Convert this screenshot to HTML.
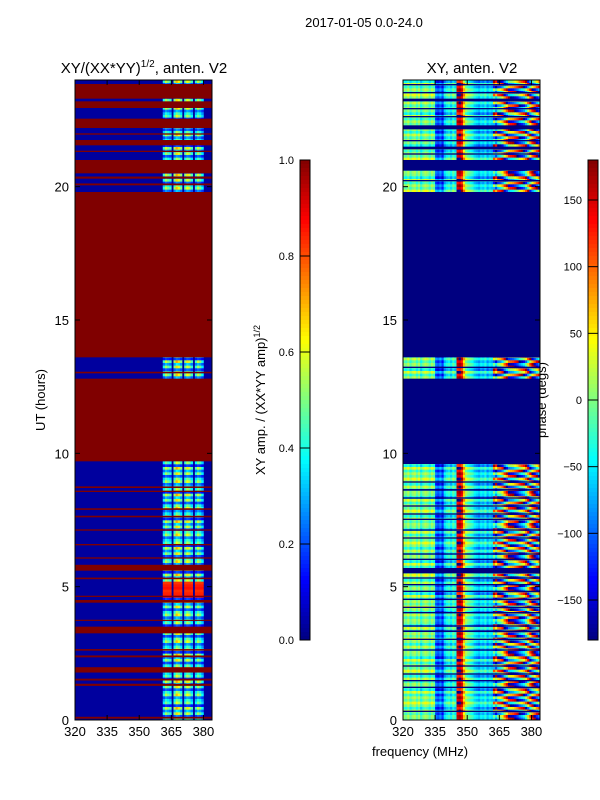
<!DOCTYPE html>
<html><head><meta charset="utf-8">
<style>
body{margin:0;background:#fff;}
svg{display:block;font-family:"Liberation Sans",sans-serif;}
</style></head>
<body>
<svg id="fig" width="600" height="800" viewBox="0 0 600 800">
<rect width="600" height="800" fill="#fff"/>
<text x="364" y="27" text-anchor="middle" font-size="13">2017-01-05 0.0-24.0</text>
<text x="144" y="73" text-anchor="middle" font-size="15">XY/(XX*YY)<tspan font-size="10" dy="-6">1/2</tspan><tspan dy="6">, anten. V2</tspan></text>
<text x="472" y="73" text-anchor="middle" font-size="15">XY, anten. V2</text>
<text transform="translate(45,400) rotate(-90)" text-anchor="middle" font-size="13">UT (hours)</text>
<text x="420" y="756" text-anchor="middle" font-size="13">frequency (MHz)</text>
<text transform="translate(265,400) rotate(-90)" text-anchor="middle" font-size="13">XY amp. / (XX*YY amp)<tspan font-size="9" dy="-5">1/2</tspan></text>
<text transform="translate(546,400) rotate(-90)" text-anchor="middle" font-size="13">phase (degs)</text>
<g id="left"></g>
<g id="right"></g>
<g id="cb"></g>
<g id="axes"></g>
</svg>
<script>
// ---- data ----
const yTicks=[0,5,10,15,20];
const xTicks=[320,335,350,365,380];
const ampTicks=[0.0,0.2,0.4,0.6,0.8,1.0];
const phaseTicks=[-150,-100,-50,0,50,100,150];
// left panel: red (saturated) bands [start,end]
const redBands=[[0.05,0.12],[1.28,1.36],[1.48,1.55],[1.78,1.98],[2.35,2.42],[2.6,2.66],[3.25,3.5],[3.72,3.76],[4.4,4.5],[4.62,4.66],[5.28,5.34],[5.6,5.82],[6.05,6.1],[6.55,6.6],[7.1,7.15],[7.6,7.66],[7.88,7.94],[8.55,8.6],[8.7,8.76],[9.7,12.8],[13.0,13.06],[13.6,19.8],[20.05,20.12],[20.3,20.38],[20.5,21.0],[21.3,21.35],[21.55,21.75],[21.95,22.0],[22.2,22.55],[22.95,23.2],[23.3,23.85]];
const hotBands=[[4.62,5.2]];
// amplitude per 1-MHz column 320..383 (non-red rows)
const colAmp=[0.03,0.03,0.03,0.03,0.03,0.03,0.03,0.03,0.03,0.03,0.03,0.03,0.03,0.03,0.03,0.03,0.03,0.03,0.03,0.03,0.03,0.03,0.03,0.03,0.03,0.03,0.03,0.03,0.03,0.03,0.03,0.03,0.03,0.03,0.03,0.03,0.03,0.03,0.03,0.04,0.05,0.33,0.45,0.4,0.35,0.06,0.42,0.55,0.5,0.4,0.06,0.4,0.5,0.45,0.35,0.06,0.35,0.45,0.4,0.3,0.05,0.03,0.03,0.03];
const rowGain=[1.0,0.5,1.2,0.7,1.3,0.4,1.1,0.9,0.6,1.25];
// right panel: navy (no data) bands
const navyBands=[[0.3,0.35],[1.2,1.25],[1.45,1.5],[1.7,1.75],[2.0,2.05],[2.6,2.65],[3.0,3.05],[3.3,3.36],[3.5,3.55],[4.0,4.05],[4.2,4.25],[4.5,4.55],[4.8,4.85],[5.05,5.1],[5.3,5.35],[5.5,5.7],[6.0,6.05],[6.2,6.25],[6.8,6.85],[7.1,7.15],[7.5,7.55],[7.7,7.75],[8.0,8.05],[8.3,8.35],[8.6,8.66],[8.9,8.95],[9.6,12.8],[13.2,13.25],[13.6,19.8],[20.2,20.25],[20.6,21.0],[21.2,21.25],[21.4,21.5],[21.7,21.75],[22.15,22.3],[22.6,22.65],[22.9,22.95],[23.2,23.3],[23.5,23.55],[23.8,23.85]];
// phase per 1-MHz column 320..383 (degs)
const colPhase=[0,-10,10,-20,0,10,-15,5,-30,-5,10,0,-20,5,-10,-100,-110,-90,-120,-60,-40,-30,-50,-20,-40,150,160,140,60,10,-10,-20,-30,-50,-60,-70,-50,-60,-40,-70,-50,-60,-40,-80,-30,-20,10,60,100,150,160,170,-170,-150,-120,-100,-80,-40,20,80,130,160,-160,-130];
const rowShift=[0,40,-60,90,-120,20,150,-30,60,-90,120,-150];

// ---- helpers ----
const NS='http://www.w3.org/2000/svg';
function jet(v){v=Math.max(0,Math.min(1,v));
 const c=t=>Math.round(255*Math.max(0,Math.min(1,1.5-Math.abs(4*v-t))));
 return `rgb(${c(3)},${c(2)},${c(1)})`;}
function rect(g,x,y,w,h,f){const r=document.createElementNS(NS,'rect');r.setAttribute('x',x);r.setAttribute('y',y);r.setAttribute('width',w);r.setAttribute('height',h);r.setAttribute('fill',f);g.appendChild(r);return r;}
function inB(b,h){return b.some(([s,e])=>h>=s&&h<e);}
const PL=[75,403], PT=80, PB=720, PW=137;
const yS=h=>PB-(h/24)*(PB-PT);
const xS=(x0,f)=>x0+(f-320)*PW/64;
const NR=240, dh=0.1;
// left
const L=document.getElementById('left');
rect(L,PL[0],PT,PW,PB-PT,jet(0.03));
for(let r=0;r<NR;r++){const h=r*dh+dh/2;
 const hot=inB(hotBands,h), g=rowGain[r%rowGain.length];
 for(let c=0;c<colAmp.length;c++){let v=colAmp[c];
  if(v>0.2){v=hot?0.85+0.05*(g-1):v*g;}
  else continue;
  rect(L,xS(PL[0],320+c),yS(h+dh/2),PW/64+0.3,yS(h-dh/2)-yS(h+dh/2)+0.3,jet(v));}
}
redBands.forEach(([s,e])=>{const b=rect(L,PL[0],yS(e),PW,Math.max(1.2,yS(s)-yS(e)),jet(1));
 
 });
// right
const R=document.getElementById('right');
rect(R,PL[1],PT,PW,PB-PT,jet(0));
for(let r=0;r<NR;r++){const h=r*dh+dh/2;
 const s=rowShift[r%rowShift.length];
 for(let c=0;c<colPhase.length;c++){let p=colPhase[c];
  if(c>=42)p=p+s; else p=p+s*0.25;
  p=((p+180)%360+360)%360-180;
  rect(R,xS(PL[1],320+c),yS(h+dh/2),PW/64+0.3,yS(h-dh/2)-yS(h+dh/2)+0.3,jet((p+180)/360));}
}
navyBands.forEach(([s,e])=>{const b=rect(R,PL[1],yS(e),PW,Math.max(1.2,yS(s)-yS(e)),jet(0));
 
 });
// colorbars
const CB=document.getElementById('cb');
function colorbar(x,ticks,lo,hi,name){
 for(let i=0;i<120;i++){rect(CB,x,160+i*4,10,4.3,jet(1-(i+0.5)/120));}
 const b=rect(CB,x,160,10,480,'none');b.setAttribute('stroke','#000');b.setAttribute('stroke-width','1');
 
 
 ticks.forEach(t=>{const y=640-(t-lo)/(hi-lo)*480;
  const l=document.createElementNS(NS,'line');l.setAttribute('x1',x);l.setAttribute('x2',x+10);l.setAttribute('y1',y);l.setAttribute('y2',y);l.setAttribute('stroke','#000');CB.appendChild(l);
  const tx=document.createElementNS(NS,'text');tx.setAttribute('x',x-6);tx.setAttribute('y',y+4);tx.setAttribute('text-anchor','end');tx.setAttribute('font-size','11');
  tx.textContent=(lo===0?t.toFixed(1):String(t).replace('-','\u2212'));
  
  
  CB.appendChild(tx);});
}
colorbar(300,ampTicks,0,1,'amplitude-colorbar');
colorbar(588,phaseTicks,-180,180,'phase-colorbar');
// axes
const A=document.getElementById('axes');
PL.forEach(x0=>{
 const f=rect(A,x0,PT,PW,PB-PT,'none');f.setAttribute('stroke','#000');
 
 
 yTicks.forEach(t=>{const y=yS(t);
  [[x0,x0+5],[x0+PW,x0+PW-5]].forEach(([a,b])=>{const l=document.createElementNS(NS,'line');l.setAttribute('x1',a);l.setAttribute('x2',b);l.setAttribute('y1',y);l.setAttribute('y2',y);l.setAttribute('stroke','#000');A.appendChild(l);});
  const tx=document.createElementNS(NS,'text');tx.setAttribute('x',x0-6);tx.setAttribute('y',y+5);tx.setAttribute('text-anchor','end');tx.setAttribute('font-size','13');tx.textContent=t;
  
  
  A.appendChild(tx);});
 xTicks.forEach(t=>{const x=xS(x0,t);
  [[PB,PB-5],[PT,PT+5]].forEach(([a,b])=>{const l=document.createElementNS(NS,'line');l.setAttribute('x1',x);l.setAttribute('x2',x);l.setAttribute('y1',a);l.setAttribute('y2',b);l.setAttribute('stroke','#000');A.appendChild(l);});
  const tx=document.createElementNS(NS,'text');tx.setAttribute('x',x);tx.setAttribute('y',PB+16);tx.setAttribute('text-anchor','middle');tx.setAttribute('font-size','13');tx.textContent=t;
  
  
  A.appendChild(tx);});
});
</script>
</body></html>
